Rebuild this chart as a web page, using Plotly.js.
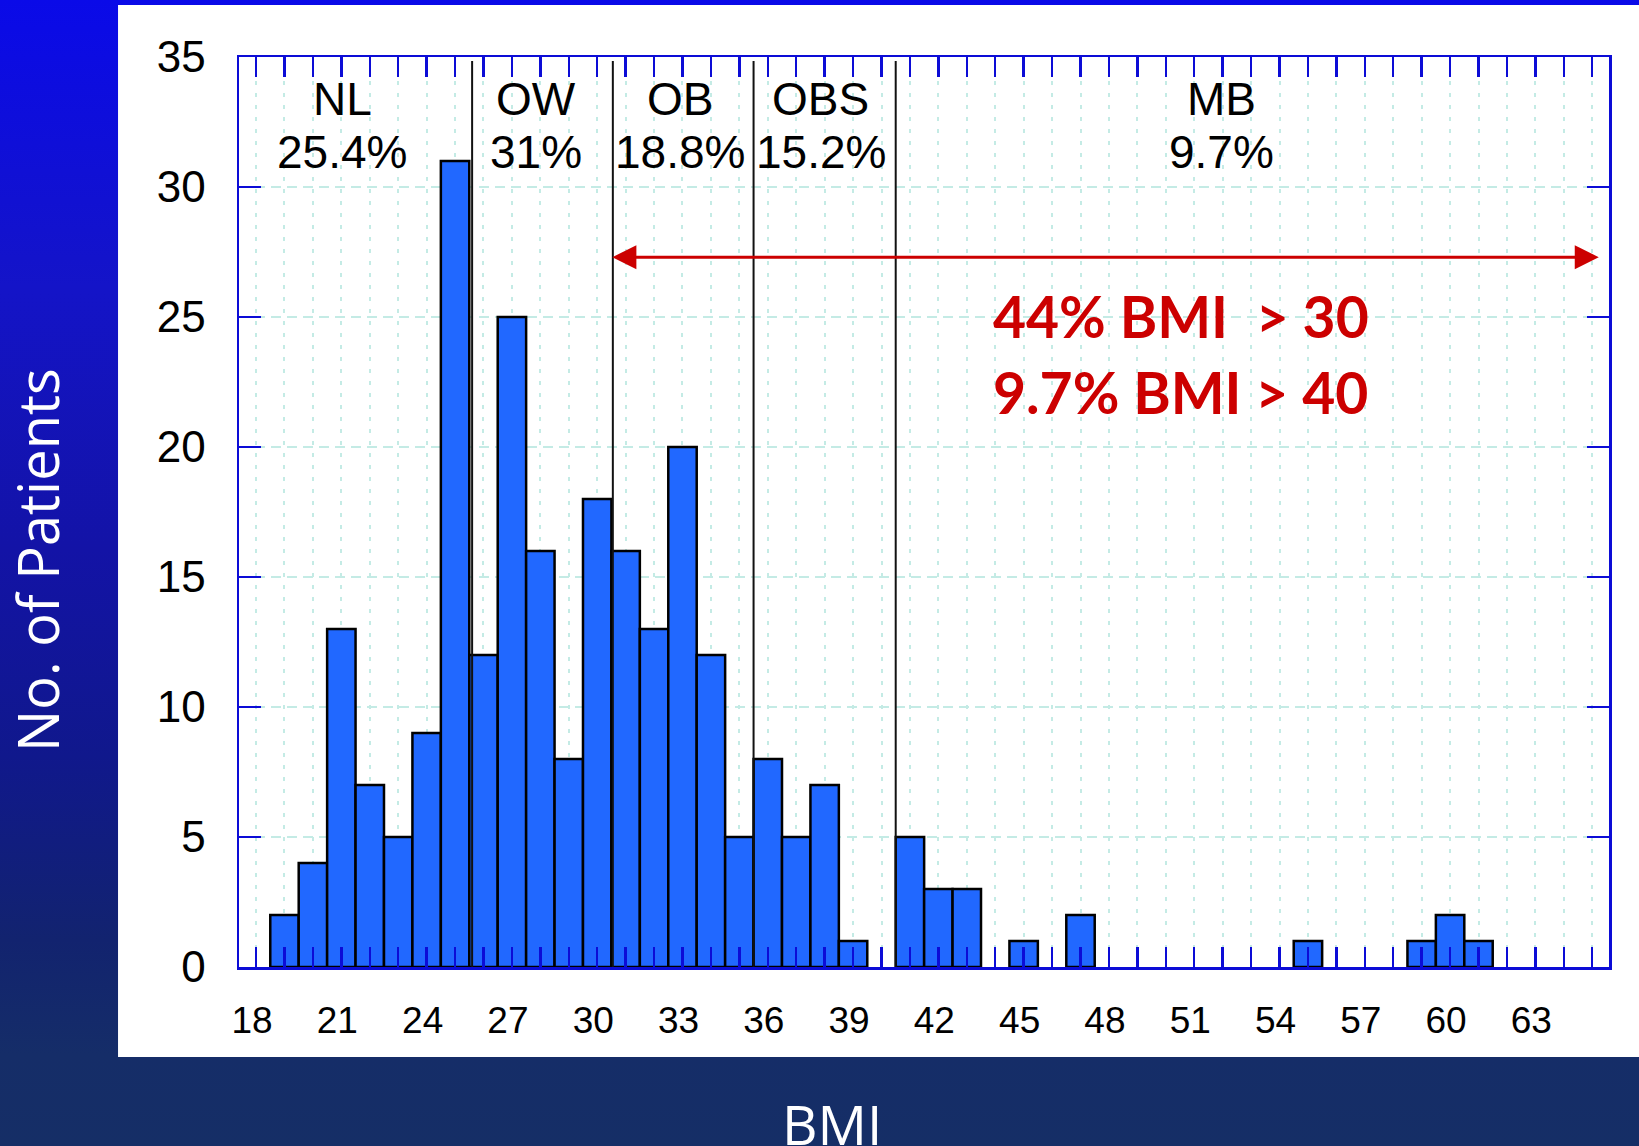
<!DOCTYPE html>
<html>
<head>
<meta charset="utf-8">
<script src="https://cdn.plot.ly/plotly-3.0.1.min.js"></script>
<style>
  html, body { margin: 0; padding: 0; }
  body {
    width: 1639px; height: 1146px; overflow: hidden;
    background: linear-gradient(to bottom, #0a0ae8 0%, #1414c8 25%, #1313a6 48%, #10188c 66%, #12236f 82%, #152d68 92%, #152e66 100%);
  }
  #chart { width: 1639px; height: 1146px; }
</style>
</head>
<body>
<div id="chart"></div>
<script>
// ---- data ----
const bmiBins  = [19, 20, 21, 22, 23, 24, 25, 26, 27, 28, 29, 30, 31, 32, 33, 34, 35, 36, 37, 38, 39, 41, 42, 43, 45, 47, 55, 59, 60, 61];
const patients = [ 2,  4, 13,  7,  5,  9, 31, 12, 25, 16,  8, 18, 16, 13, 20, 12,  5,  8,  5,  7,  1,  5,  3,  3,  1,  2,  1,  1,  2,  1];
const classNames = ["NL", "OW", "OB", "OBS", "MB"];
const classPercents = ["25.4%", "31%", "18.8%", "15.2%", "9.7%"];
const classBoundaries = [25.6, 30.55, 35.5, 40.5];
const summaryLines = ["44% BMI\u00A0 > 30", "9.7% BMI > 40"];
const xTitle = "BMI";
const yTitle = "No. of Patients";

// ---- styling / layout ----
const axisBlue = "#0c0cd6";
const gridCol = "#c4ebe5";
const arial = "Liberation Sans, Arial, sans-serif";
const classLabelX = [21.03, 27.85, 32.92, 37.86, 51.97];

const trace = {
  type: "bar",
  x: bmiBins,
  y: patients,
  width: 1,
  marker: { color: "#2168ff", line: { color: "#000000", width: 2.5 } },
  hoverinfo: "skip"
};

const annotations = [];
classNames.forEach((n, i) => {
  annotations.push({ x: classLabelX[i], y: 33.38, xref: "x", yref: "y", text: n, showarrow: false,
    xanchor: "center", yanchor: "middle", font: { family: arial, size: 46, color: "#000" } });
  annotations.push({ x: classLabelX[i], y: 31.35, xref: "x", yref: "y", text: classPercents[i], showarrow: false,
    xanchor: "center", yanchor: "middle", font: { family: arial, size: 46, color: "#000" } });
});
// red double arrow (BMI > 30 range)
annotations.push({ x: 65.23, y: 27.3, ax: 30.48, ay: 27.3, xref: "x", yref: "y", axref: "x", ayref: "y",
  text: "", showarrow: true, arrowhead: 2, startarrowhead: 2, arrowside: "end+start",
  arrowsize: 1.6, startarrowsize: 1.6, arrowwidth: 3, arrowcolor: "#cc0000" });
[25.05, 22.1].forEach((yy, i) => {
  annotations.push({ x: 43.86, y: yy, xref: "x", yref: "y", text: summaryLines[i], showarrow: false,
    xanchor: "left", yanchor: "middle",
    font: { family: "Lato, Open Sans, sans-serif", size: 57, color: "#cc0000", weight: 700 } });
});
// axis titles (placed in the blue frame)
annotations.push({ x: 0.4328, y: -0.172, xref: "paper", yref: "paper", text: xTitle, showarrow: false,
  xanchor: "center", yanchor: "middle", font: { family: "Open Sans, sans-serif", size: 55, color: "#ffffff" } });
annotations.push({ x: -0.1475, y: 0.4473, xref: "paper", yref: "paper", text: yTitle, showarrow: false,
  textangle: -90, xanchor: "center", yanchor: "middle", font: { family: "Open Sans, sans-serif", size: 56, color: "#ffffff" } });

const shapes = [
  { type: "rect", xref: "paper", yref: "paper", x0: -0.0883, x1: 1.03, y0: -0.0989, y1: 1.0571,
    fillcolor: "#ffffff", line: { width: 0 }, layer: "below" }
];
classBoundaries.forEach(b => {
  shapes.push({ type: "line", xref: "x", yref: "y", x0: b, x1: b, y0: 0, y1: 34.85,
    line: { color: "#111111", width: 2 } });
});

const layout = {
  width: 1639, height: 1146,
  margin: { l: 239, r: 30, t: 57, b: 179, pad: 0 },
  paper_bgcolor: "rgba(0,0,0,0)",
  plot_bgcolor: "#ffffff",
  showlegend: false,
  bargap: 0,
  hovermode: false,
  xaxis: {
    range: [17.4, 65.59], tick0: 18, dtick: 3,
    ticks: "inside", ticklen: 20, tickwidth: 2.5, tickcolor: axisBlue,
    showline: true, linecolor: axisBlue, linewidth: 2.5, mirror: "ticks",
    showgrid: true, gridcolor: gridCol, gridwidth: 2, griddash: "4px,8px",
    zeroline: false,
    tickfont: { family: arial, size: 37, color: "#000" },
    ticklabelstandoff: 19,
    ticklabelshift: -4,
    minor: { tick0: 18, dtick: 1, ticks: "inside", ticklen: 20, tickwidth: 2.5, tickcolor: axisBlue,
      showgrid: true, gridcolor: gridCol, gridwidth: 2, griddash: "4px,8px" }
  },
  yaxis: {
    range: [0, 35], tick0: 0, dtick: 5,
    ticks: "inside", ticklen: 22, tickwidth: 2.5, tickcolor: axisBlue,
    showline: true, linecolor: axisBlue, linewidth: 2.5, mirror: "ticks",
    showgrid: true, gridcolor: gridCol, gridwidth: 2, griddash: "10px,6px",
    zeroline: false,
    tickfont: { family: arial, size: 44, color: "#000" },
    ticklabelstandoff: 22
  },
  annotations: annotations,
  shapes: shapes
};

Plotly.newPlot("chart", [trace], layout, { staticPlot: true, displayModeBar: false });
</script>
</body>
</html>
